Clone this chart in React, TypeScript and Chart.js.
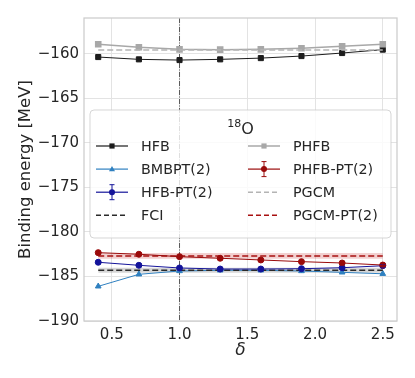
import React, { useEffect, useRef } from "react";
import { Chart, registerables } from "chart.js";

Chart.register(...registerables);

// ---------- data ----------
const deltas = [0.4, 0.7, 1.0, 1.3, 1.6, 1.9, 2.2, 2.5];
const hfb = [-160.38, -160.64, -160.72, -160.64, -160.5, -160.27, -159.93, -159.55];
const phfb = [-158.95, -159.29, -159.52, -159.55, -159.52, -159.4, -159.18, -158.95];
const pgcm = [-159.6, -159.6, -159.6, -159.6, -159.6, -159.6, -159.6, -159.6];
const bmbpt2 = [-186.11, -184.76, -184.39, -184.31, -184.31, -184.39, -184.54, -184.7];
const hfbPt2 = [-183.41, -183.75, -184.05, -184.17, -184.17, -184.13, -184.02, -183.8];
const hfbPt2Err = [0.15, 0.15, 0.15, 0.15, 0.15, 0.15, 0.15, 0.15];
const phfbPt2 = [-182.33, -182.51, -182.78, -182.96, -183.15, -183.34, -183.49, -183.72];
const phfbPt2Err = [0.15, 0.15, 0.15, 0.15, 0.15, 0.15, 0.15, 0.15];
const fci = [-184.31, -184.31, -184.31, -184.31, -184.31, -184.31, -184.31, -184.31];
const fciErr = 0.28;
const pgcmPt2 = [-182.7, -182.7, -182.7, -182.7, -182.7, -182.7, -182.7, -182.7];
const pgcmPt2Err = 0.32;
const refDelta = 1.0;
const xTicks = [0.5, 1.0, 1.5, 2.0, 2.5];
const yTicks = [-190, -185, -180, -175, -170, -165, -160];
const xRange = [0.295, 2.605];
const yRange = [-190, -156];
const legendTitleSup = "18";
const legendTitleMain = "O";

// ---------- styles ----------
const C_HFB = "#1c1c1c";
const C_BMBPT = "#2f80c0";
const C_HFBPT = "#14149a";
const C_PHFB = "#a8a8a8";
const C_PHFBPT = "#9a0b0b";
const C_PGCM = "#b4b4b4";
const C_PGCMPT = "#a81010";
const C_FCI = "#2a2a2a";
const FONT = "'DejaVu Sans', sans-serif";
const TXT = "#262626";

const pts = (ys: number[], off = 0) => deltas.map((x, i) => ({ x, y: ys[i] + off }));

type LegendItem = {
  label: string;
  color: string;
  dash?: number[];
  marker?: "rect" | "triangle" | "circle";
  err?: boolean;
  lw?: number;
};

const legendCols: LegendItem[][] = [
  [
    { label: "HFB", color: C_HFB, marker: "rect" },
    { label: "BMBPT(2)", color: C_BMBPT, marker: "triangle" },
    { label: "HFB-PT(2)", color: C_HFBPT, marker: "circle", err: true },
    { label: "FCI", color: C_FCI, dash: [5, 3], lw: 1.5 },
  ],
  [
    { label: "PHFB", color: C_PHFB, marker: "rect", lw: 1.5 },
    { label: "PHFB-PT(2)", color: C_PHFBPT, marker: "circle", err: true },
    { label: "PGCM", color: C_PGCM, dash: [5, 3], lw: 1.5 },
    { label: "PGCM-PT(2)", color: C_PGCMPT, dash: [5, 3], lw: 1.5 },
  ],
];

function drawMarker(ctx: CanvasRenderingContext2D, kind: string, x: number, y: number, color: string) {
  ctx.save();
  ctx.fillStyle = color;
  ctx.strokeStyle = color;
  ctx.beginPath();
  if (kind === "rect") {
    ctx.rect(x - 2.6, y - 2.6, 5.2, 5.2);
  } else if (kind === "triangle") {
    ctx.moveTo(x, y - 3.2);
    ctx.lineTo(x + 3, y + 2.2);
    ctx.lineTo(x - 3, y + 2.2);
    ctx.closePath();
  } else {
    ctx.arc(x, y, 3, 0, Math.PI * 2);
  }
  ctx.fill();
  ctx.restore();
}

const framePlugin = {
  id: "frame",
  beforeDatasetsDraw(chart: any) {
    const { ctx, chartArea: a, scales } = chart;
    ctx.save();
    const x = scales.x.getPixelForValue(refDelta);
    ctx.strokeStyle = "#4a4a4a";
    ctx.lineWidth = 0.9;
    ctx.setLineDash([5, 1.5, 1, 1.5]);
    ctx.beginPath();
    ctx.moveTo(x, a.top);
    ctx.lineTo(x, a.bottom);
    ctx.stroke();
    ctx.restore();
  },
  afterDatasetsDraw(chart: any) {
    const { ctx, chartArea: a, scales } = chart;
    const errSets = [
      { ys: hfbPt2, es: hfbPt2Err, color: C_HFBPT },
      { ys: phfbPt2, es: phfbPt2Err, color: C_PHFBPT },
    ];
    ctx.save();
    errSets.forEach((s) => {
      ctx.strokeStyle = s.color;
      ctx.lineWidth = 1;
      deltas.forEach((d, i) => {
        const px = scales.x.getPixelForValue(d);
        const y1 = scales.y.getPixelForValue(s.ys[i] + s.es[i]);
        const y2 = scales.y.getPixelForValue(s.ys[i] - s.es[i]);
        ctx.beginPath();
        ctx.moveTo(px, y1);
        ctx.lineTo(px, y2);
        ctx.moveTo(px - 2.5, y1);
        ctx.lineTo(px + 2.5, y1);
        ctx.moveTo(px - 2.5, y2);
        ctx.lineTo(px + 2.5, y2);
        ctx.stroke();
      });
    });
    ctx.strokeStyle = "#cccccc";
    ctx.lineWidth = 1.25;
    ctx.strokeRect(a.left, a.top, a.right - a.left, a.bottom - a.top);
    ctx.restore();
  },
  afterDraw(chart: any) {
    const { ctx, chartArea: a } = chart;
    const bx = a.left + 6;
    const by = a.top + 92;
    const bw = a.right - a.left - 12;
    const bh = 128;
    ctx.save();
    ctx.beginPath();
    (ctx as any).roundRect(bx, by, bw, bh, 4);
    ctx.fillStyle = "rgba(255,255,255,0.8)";
    ctx.fill();
    ctx.strokeStyle = "rgba(204,204,204,0.8)";
    ctx.lineWidth = 1;
    ctx.stroke();

    const cx = bx + bw / 2;
    ctx.fillStyle = TXT;
    ctx.textBaseline = "alphabetic";
    ctx.font = `11px ${FONT}`;
    const supW = ctx.measureText(legendTitleSup).width;
    ctx.font = `16px ${FONT}`;
    const mainW = ctx.measureText(legendTitleMain).width;
    const tx = cx - (supW + mainW) / 2;
    ctx.font = `11px ${FONT}`;
    ctx.textAlign = "left";
    ctx.fillText(legendTitleSup, tx, by + 17);
    ctx.font = `16px ${FONT}`;
    ctx.fillText(legendTitleMain, tx + supW, by + 24);

    const colX = [bx + 6, bx + 158];
    const rowY0 = by + 36;
    const rowStep = 23.1;
    ctx.font = `14.3px ${FONT}`;
    ctx.textBaseline = "middle";
    legendCols.forEach((col, ci) => {
      col.forEach((it, ri) => {
        const x0 = colX[ci];
        const x1 = x0 + 32;
        const y = rowY0 + ri * rowStep;
        ctx.save();
        ctx.strokeStyle = it.color;
        ctx.lineWidth = it.lw || 1.2;
        ctx.setLineDash(it.dash || []);
        ctx.beginPath();
        ctx.moveTo(x0, y);
        ctx.lineTo(x1, y);
        ctx.stroke();
        ctx.setLineDash([]);
        if (it.err) {
          const mx = (x0 + x1) / 2;
          ctx.lineWidth = 1;
          ctx.beginPath();
          ctx.moveTo(mx, y - 7.5);
          ctx.lineTo(mx, y + 7.5);
          ctx.moveTo(mx - 2.5, y - 7.5);
          ctx.lineTo(mx + 2.5, y - 7.5);
          ctx.moveTo(mx - 2.5, y + 7.5);
          ctx.lineTo(mx + 2.5, y + 7.5);
          ctx.stroke();
        }
        if (it.marker) drawMarker(ctx, it.marker, (x0 + x1) / 2, y, it.color);
        ctx.restore();
        ctx.fillStyle = TXT;
        ctx.fillText(it.label, x1 + 13, y + 1);
      });
    });
    ctx.restore();
  },
};

export default function App() {
  const ref = useRef<HTMLCanvasElement>(null);
  useEffect(() => {
    document.body.style.margin = "0";
    const line = (label: string, ys: number[], color: string, extra: any = {}) => ({
      label,
      data: pts(ys),
      borderColor: color,
      backgroundColor: color,
      borderWidth: 1.1,
      pointRadius: 0,
      pointHoverRadius: 0,
      tension: 0,
      ...extra,
    });
    const chart = new Chart(ref.current!, {
      type: "line",
      data: {
        datasets: [
          line("PHFB-PT(2)", phfbPt2, C_PHFBPT, { pointStyle: "circle", pointRadius: 3, borderWidth: 1, order: 1 }),
          line("HFB-PT(2)", hfbPt2, C_HFBPT, { pointStyle: "circle", pointRadius: 3, borderWidth: 1, order: 2 }),
          line("PGCM-PT(2)", pgcmPt2, C_PGCMPT, { borderDash: [6, 3], borderWidth: 1.5, order: 3 }),
          line("FCI", fci, C_FCI, { borderDash: [6, 3], borderWidth: 1.5, order: 4 }),
          line("BMBPT(2)", bmbpt2, C_BMBPT, { pointStyle: "triangle", pointRadius: 3.3, borderWidth: 1, order: 5 }),
          line("PGCM", pgcm, C_PGCM, { borderDash: [6, 3], borderWidth: 1.5, order: 6 }),
          line("PHFB", phfb, C_PHFB, { pointStyle: "rect", pointRadius: 3.6, borderWidth: 1.5, order: 7 }),
          line("HFB", hfb, C_HFB, { pointStyle: "rect", pointRadius: 3.6, borderWidth: 1, order: 8 }),
          line("fciHi", fci.map((v) => v + fciErr), "rgba(0,0,0,0)", { fill: "+1", backgroundColor: "rgba(120,120,120,0.3)", borderWidth: 0, order: 20 }),
          line("fciLo", fci.map((v) => v - fciErr), "rgba(0,0,0,0)", { borderWidth: 0, order: 21 }),
          line("pgcmHi", pgcmPt2.map((v) => v + pgcmPt2Err), "rgba(0,0,0,0)", { fill: "+1", backgroundColor: "rgba(190,20,20,0.2)", borderWidth: 0, order: 22 }),
          line("pgcmLo", pgcmPt2.map((v) => v - pgcmPt2Err), "rgba(0,0,0,0)", { borderWidth: 0, order: 23 }),
        ],
      },
      options: {
        animation: false,
        responsive: false,
        events: [],
        layout: { padding: { top: 18, right: 18, left: 0, bottom: 0 } },
        plugins: { legend: { display: false }, tooltip: { enabled: false } },
        scales: {
          x: {
            type: "linear",
            min: xRange[0],
            max: xRange[1],
            afterBuildTicks: (s: any) => {
              s.ticks = xTicks.map((v) => ({ value: v }));
            },
            afterFit: (s: any) => {
              s.height = 57;
            },
            grid: { color: "#e3e3e3", lineWidth: 1, drawTicks: false },
            border: { display: false },
            ticks: {
              color: TXT,
              padding: 5,
              font: { family: FONT, size: 15 },
              maxRotation: 0,
              callback: (v: any) => Number(v).toFixed(1),
            },
            title: {
              display: true,
              text: "δ",
              color: TXT,
              font: { family: FONT, size: 17, style: "italic" },
              padding: { top: 0, bottom: 17 },
            },
          },
          y: {
            type: "linear",
            min: yRange[0],
            max: yRange[1],
            afterBuildTicks: (s: any) => {
              s.ticks = yTicks.map((v) => ({ value: v }));
            },
            afterFit: (s: any) => {
              s.width = 84;
            },
            grid: { color: "#e3e3e3", lineWidth: 1, drawTicks: false },
            border: { display: false },
            ticks: {
              color: TXT,
              padding: 5,
              font: { family: FONT, size: 15 },
              callback: (v: any) => String(v).replace("-", "\u2212"),
            },
            title: {
              display: true,
              text: "Binding energy [MeV]",
              color: TXT,
              font: { family: FONT, size: 16.5 },
              padding: { top: 16, bottom: 0 },
            },
          },
        },
      },
      plugins: [framePlugin],
    });
    return () => chart.destroy();
  }, []);
  return (
    <div style={{ width: 415, height: 378, background: "#fff" }}>
      <canvas ref={ref} width={415} height={378} style={{ display: "block" }} />
    </div>
  );
}
